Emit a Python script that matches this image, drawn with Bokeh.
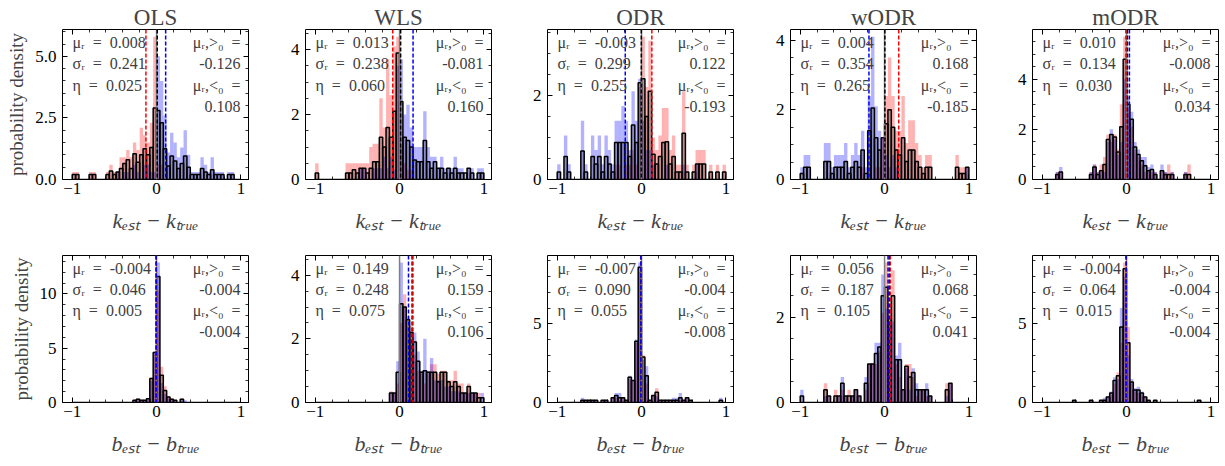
from bokeh.plotting import figure
from bokeh.layouts import row as brow, column as bcol
from bokeh.models import (Range1d, Label, Span, LinearAxis, SingleIntervalTicker,
                          PrintfTickFormatter, CustomJSTickFormatter)
from bokeh.embed import file_html
from bokeh.resources import INLINE

SERIF = "Liberation Serif"

methods = ["OLS", "WLS", "ODR", "wODR", "mODR"]
bin_edges = [round(-1.0 + 0.04 * i, 2) for i in range(51)]

# ---------------- k_est - k_true : total (black), subset >0 (red), subset <0 (blue)
k_ols_all = [0.2, 0.2, 0, 0, 0, 0.2, 0.2, 0, 0, 0,
             0.2, 0.35, 0.2, 0.3, 0.45, 0.65, 0.8, 0.45, 1.05, 0.7,
             1.0, 1.25, 1.0, 1.3, 2.9, 2.8, 2.3, 1.25, 0.55, 0.95,
             0.75, 0.45, 0.65, 0.95, 0.5, 0.2, 0.2, 0.2, 0.45, 0.3,
             0.2, 0.4, 0.2, 0.2, 0.2, 0, 0.2, 0.2, 0, 0]
k_ols_pos = [0.3, 0.3, 0, 0, 0, 0.3, 0.3, 0, 0, 0,
             0.3, 0.6, 0.3, 0.3, 0.9, 0.9, 1.2, 0.9, 1.5, 1.2,
             2.1, 1.8, 1.5, 2.3, 5.8, 0.6, 0.6, 0, 0, 0,
             0, 0, 0, 0, 0, 0, 0, 0, 0, 0,
             0, 0, 0, 0, 0, 0, 0, 0, 0, 0]
k_ols_neg = [0, 0, 0, 0, 0, 0, 0, 0, 0, 0,
             0, 0, 0, 0.3, 0, 0.3, 0.3, 0, 0.6, 0.3,
             0, 0.6, 0.6, 0.3, 0.3, 5.0, 4.0, 2.6, 1.1, 1.9,
             1.5, 0.9, 1.3, 2.0, 1.0, 0.3, 0.3, 0.3, 0.9, 0.6,
             0.3, 0.9, 0.3, 0.3, 0.3, 0, 0.3, 0.3, 0, 0]

k_wls_all = [0.2, 0, 0, 0, 0, 0, 0, 0, 0, 0.2,
             0.2, 0.3, 0.2, 0.35, 0.35, 0.2, 0.35, 0.55, 0.55, 1.3,
             1.0, 1.6, 1.3, 2.1, 3.9, 2.4, 1.3, 1.2, 1.0, 0.6,
             0.55, 0.55, 1.2, 0.55, 0.35, 0.55, 0.35, 0.35, 0.2, 0.35,
             0.2, 0.35, 0.2, 0.2, 0.2, 0.35, 0.2, 0, 0.2, 0.2]
k_wls_pos = [0.5, 0, 0, 0, 0, 0, 0, 0, 0, 0.5,
             0.5, 0.5, 0.5, 0.5, 0.5, 0.5, 1.0, 1.1, 1.1, 2.5,
             1.6, 3.7, 2.6, 4.1, 4.4, 1.0, 0.5, 0.3, 0.3, 0,
             0, 0, 0, 0, 0, 0, 0, 0, 0, 0,
             0, 0, 0, 0, 0, 0, 0, 0, 0, 0]
k_wls_neg = [0, 0, 0, 0, 0, 0, 0, 0, 0, 0,
             0, 0, 0, 0.35, 0.35, 0, 0, 0.35, 0.35, 0.35,
             0.7, 0.35, 0.7, 0.3, 3.5, 3.7, 2.0, 2.3, 1.6, 1.0,
             1.0, 1.0, 2.1, 1.0, 0.7, 0.7, 0.35, 0.7, 0.35, 0.35,
             0.35, 0.7, 0.35, 0.35, 0, 0.35, 0.35, 0, 0.35, 0.35]

k_odr_all = [0.18, 0, 0.55, 0.18, 0, 0, 0, 0.68, 0.18, 0,
             0.55, 0.37, 0.55, 0.18, 0.55, 0.37, 0.18, 0.88, 0.88, 0.88,
             0.88, 0.55, 1.3, 0.88, 2.3, 2.4, 1.5, 2.1, 0.6, 0.37,
             0.55, 0.88, 0.9, 0.37, 0.55, 0.18, 0.18, 1.1, 0.18, 0,
             0.18, 0.37, 0.37, 0.37, 0, 0.18, 0, 0.18, 0, 0.18]
k_odr_pos = [0, 0, 0, 0, 0, 0, 0, 0, 0, 0,
             0, 0, 0, 0, 0, 0, 0, 0.35, 0.35, 0,
             0.35, 0.35, 0.7, 0.35, 2.2, 3.4, 2.2, 3.3, 1.0, 0.7,
             1.05, 1.7, 1.7, 0.7, 1.05, 0.35, 0.35, 2.1, 0.35, 0,
             0.35, 0.7, 0.7, 0.7, 0, 0.35, 0, 0.35, 0, 0.35]
k_odr_neg = [0.36, 0, 1.05, 0.36, 0, 0, 0, 1.4, 0.36, 0,
             1.05, 0.7, 1.05, 0.36, 1.05, 0.7, 0.36, 1.4, 1.4, 1.75,
             1.4, 0.7, 2.1, 1.4, 2.4, 1.4, 0.7, 0.7, 0.35, 0,
             0, 0, 0.35, 0, 0, 0, 0, 0.35, 0, 0,
             0, 0.35, 0, 0, 0, 0, 0, 0, 0, 0]

k_wodr_all = [0.17, 0.35, 0.35, 0, 0, 0, 0, 0.52, 0.52, 0.17,
              0.35, 0.35, 0.35, 0.52, 0.17, 0.35, 0.52, 0.35, 0.85, 0.17,
              1.4, 2.05, 1.2, 0.85, 1.2, 1.6, 2.0, 1.5, 0.85, 0.7,
              1.2, 0.52, 0.85, 0.85, 0.52, 0.35, 0.17, 0.35, 0.35, 0,
              0, 0, 0, 0, 0, 0, 0.35, 0.17, 0.17, 0.35]
k_wodr_pos = [0, 0, 0, 0, 0, 0, 0, 0, 0, 0,
              0, 0, 0, 0, 0, 0, 0, 0, 0.35, 0,
              0.35, 0, 0.35, 0.35, 1.2, 2.4, 3.5, 2.4, 1.4, 1.4,
              2.4, 1.05, 1.7, 1.7, 1.05, 0.7, 0.35, 0.7, 0.7, 0,
              0, 0, 0, 0, 0, 0, 0.7, 0.35, 0.35, 0.35]
k_wodr_neg = [0.35, 0.7, 0.7, 0, 0, 0, 0, 1.05, 1.05, 0.35,
              0.7, 0.7, 0.7, 1.05, 0.35, 0.7, 1.05, 0.7, 1.4, 0.35,
              2.4, 4.1, 2.1, 1.4, 1.2, 0.7, 0.35, 0.7, 0.35, 0,
              0, 0, 0, 0, 0, 0, 0, 0, 0, 0,
              0, 0, 0, 0, 0, 0, 0, 0, 0, 0.35]

k_modr_all = [0, 0, 0, 0, 0.2, 0.3, 0, 0, 0, 0,
              0, 0, 0, 0, 0.2, 0.5, 0.2, 0.35, 0.6, 1.6,
              1.8, 1.7, 1.1, 2.1, 4.8, 3.0, 2.4, 1.3, 1.0, 0.75,
              0.55, 0.35, 0.4, 0.2, 0, 0.35, 0.2, 0.2, 0.2, 0,
              0, 0, 0.2, 0.2, 0, 0, 0, 0, 0, 0]
k_modr_pos = [0, 0, 0, 0, 0.3, 0.3, 0, 0, 0, 0,
              0, 0, 0, 0, 0.3, 0.6, 0.3, 0.6, 0.9, 1.8,
              1.5, 1.8, 1.2, 3.0, 5.7, 2.7, 2.1, 1.2, 0.9, 0.6,
              0.3, 0.3, 0.3, 0.3, 0, 0.3, 0.3, 0.6, 0.3, 0,
              0, 0, 0.3, 0.6, 0, 0, 0, 0, 0, 0]
k_modr_neg = [0, 0, 0, 0, 0.3, 0.5, 0, 0, 0, 0,
              0, 0, 0, 0, 0.3, 0.6, 0.3, 0.3, 0.3, 1.5,
              2.0, 1.6, 1.0, 1.5, 4.0, 3.3, 2.7, 1.5, 1.2, 0.9,
              0.9, 0.5, 0.6, 0.3, 0, 0.6, 0.3, 0, 0.3, 0,
              0, 0, 0.3, 0, 0, 0, 0, 0, 0, 0]

# ---------------- b_est - b_true
b_ols_all = [0, 0, 0, 0, 0, 0, 0, 0, 0, 0,
             0, 0, 0, 0, 0, 0, 0, 0, 0.2, 0.3,
             0.2, 0.2, 0.35, 2.2, 4.6, 11.6, 2.5, 1.1, 0.5, 0.3,
             0.2, 0, 0.3, 0, 0, 0, 0, 0, 0, 0,
             0, 0, 0, 0, 0, 0, 0, 0, 0, 0]
b_ols_pos = [0, 0, 0, 0, 0, 0, 0, 0, 0, 0,
             0, 0, 0, 0, 0, 0, 0, 0, 0.2, 0.4,
             0.2, 0.2, 0.4, 2.3, 4.5, 10.3, 3.3, 1.5, 0.6, 0.4,
             0.2, 0, 0.4, 0, 0, 0, 0, 0, 0, 0,
             0, 0, 0, 0, 0, 0, 0, 0, 0, 0]
b_ols_neg = [0, 0, 0, 0, 0, 0, 0, 0, 0, 0,
             0, 0, 0, 0, 0, 0, 0, 0, 0.2, 0.2,
             0.2, 0.2, 0.3, 2.0, 4.7, 12.9, 1.8, 0.8, 0.4, 0.2,
             0.2, 0, 0.2, 0.2, 0, 0, 0, 0, 0, 0,
             0, 0, 0, 0, 0, 0, 0, 0, 0, 0]

b_wls_all = [0, 0, 0, 0, 0, 0, 0, 0, 0, 0,
             0, 0, 0, 0, 0, 0, 0, 0, 0, 0,
             0, 0, 0.3, 0.3, 0.95, 3.1, 3.0, 2.6, 2.2, 1.9,
             1.3, 0.95, 1.0, 0.95, 0.95, 0.95, 0.65, 0.95, 0.95, 0.65,
             0.5, 0.65, 0.5, 0.3, 0.3, 0.5, 0.3, 0.3, 0.15, 0.15]
b_wls_pos = [0, 0, 0, 0, 0, 0, 0, 0, 0, 0,
             0, 0, 0, 0, 0, 0, 0, 0, 0, 0,
             0, 0, 0.35, 0.3, 0.6, 2.5, 3.4, 2.7, 2.4, 1.5,
             1.0, 0.9, 0.6, 0.9, 1.2, 1.2, 0.9, 1.0, 1.0, 0.7,
             0.7, 1.0, 0.6, 0.6, 0.3, 0.6, 0.3, 0.3, 0.3, 0]
b_wls_neg = [0, 0, 0, 0, 0, 0, 0, 0, 0, 0,
             0, 0, 0, 0, 0, 0, 0, 0, 0, 0,
             0, 0, 0.3, 0.3, 1.3, 4.4, 3.0, 2.4, 2.0, 2.2,
             1.6, 1.0, 2.0, 1.0, 1.4, 0.7, 0.7, 0.7, 0.5, 0.5,
             0.35, 0.35, 0.35, 0.3, 0.3, 0.3, 0.3, 0.3, 0, 0.3]

b_odr_all = [0, 0, 0, 0, 0, 0, 0, 0.15, 0.15, 0.15,
             0.15, 0.15, 0, 0.15, 0.15, 0, 0.3, 0.45, 0.3, 0.3,
             0.15, 1.6, 1.4, 3.9, 8.6, 2.9, 1.7, 0.15, 0.45, 0.65,
             0.15, 0.15, 0.15, 0.15, 0.15, 0.15, 0.3, 0.15, 0.3, 0.15,
             0, 0, 0, 0, 0, 0, 0, 0, 0.15, 0]
b_odr_pos = [0, 0, 0, 0, 0, 0, 0, 0.15, 0.15, 0.15,
             0.15, 0.15, 0, 0.15, 0.15, 0, 0.3, 0.3, 0.15, 0.3,
             0.15, 1.5, 1.4, 3.8, 8.3, 3.0, 1.2, 0.15, 0.5, 0.9,
             0.15, 0.15, 0.15, 0.15, 0.15, 0.15, 0.15, 0.15, 0.3, 0.15,
             0, 0, 0, 0, 0, 0, 0, 0, 0, 0]
b_odr_neg = [0, 0, 0, 0, 0, 0, 0, 0.3, 0.15, 0.15,
             0.15, 0.15, 0, 0.15, 0.15, 0, 0.3, 0.6, 0.6, 0.3,
             0.15, 1.7, 1.4, 4.0, 8.9, 2.7, 2.3, 0.15, 0.4, 0.4,
             0.15, 0.15, 0.15, 0.15, 0.3, 0.3, 0.6, 0.15, 0.3, 0.15,
             0, 0, 0, 0, 0, 0, 0, 0, 0.3, 0]

b_wodr_all = [0.15, 0, 0, 0, 0, 0, 0, 0.3, 0.15, 0,
              0.15, 0.15, 0.45, 0.15, 0.15, 0.15, 0.3, 0.15, 0, 0.45,
              0.9, 0.9, 1.15, 1.3, 2.5, 2.7, 2.0, 2.5, 1.0, 1.0,
              0.3, 0.85, 0.6, 0.7, 0.3, 0.3, 0.3, 0.3, 0.15, 0,
              0, 0, 0, 0.3, 0.45, 0, 0, 0, 0, 0]
b_wodr_pos = [0, 0, 0, 0, 0, 0, 0, 0.45, 0.15, 0,
              0.3, 0.15, 0.3, 0.15, 0.3, 0.15, 0.3, 0.15, 0, 0.3,
              0.9, 0.9, 0.9, 1.2, 2.1, 3.28, 2.2, 3.1, 0.9, 0.6,
              0.3, 0.9, 0.9, 0.6, 0.15, 0.3, 0.3, 0.15, 0.15, 0,
              0, 0, 0, 0.45, 0.45, 0, 0, 0, 0, 0]
b_wodr_neg = [0.3, 0, 0, 0, 0, 0, 0, 0.15, 0.15, 0,
              0, 0.15, 0.6, 0.15, 0, 0.15, 0.3, 0.15, 0, 0.6,
              0.9, 0.9, 1.4, 1.4, 3.0, 2.2, 1.8, 1.9, 1.1, 1.4,
              0.3, 0.8, 0.3, 0.8, 0.45, 0.3, 0.3, 0.45, 0.15, 0,
              0, 0, 0, 0.15, 0.45, 0, 0, 0, 0, 0]

b_modr_all = [0, 0, 0, 0, 0, 0, 0, 0, 0, 0.15,
              0, 0, 0, 0, 0.15, 0, 0, 0.15, 0.15, 0.35,
              0.6, 1.4, 1.7, 4.8, 8.5, 3.8, 1.3, 0.8, 0.8, 0.6,
              0.35, 0.15, 0, 0.15, 0, 0, 0, 0, 0, 0,
              0, 0, 0, 0, 0, 0, 0.15, 0, 0, 0]
b_modr_pos = [0, 0, 0, 0, 0, 0, 0, 0, 0, 0.15,
              0, 0, 0, 0, 0.15, 0, 0, 0.15, 0.15, 0.3,
              0.5, 1.2, 1.9, 3.8, 8.9, 4.8, 1.2, 0.7, 0.6, 0.5,
              0.3, 0.15, 0, 0.15, 0, 0, 0, 0, 0, 0,
              0, 0, 0, 0, 0, 0, 0.15, 0, 0, 0]
b_modr_neg = [0, 0, 0, 0, 0, 0, 0, 0, 0, 0.15,
              0, 0, 0, 0, 0.15, 0, 0, 0.15, 0.3, 0.4,
              0.7, 1.6, 1.5, 6.0, 8.0, 3.0, 1.5, 0.9, 1.0, 0.7,
              0.4, 0.15, 0, 0.15, 0, 0, 0, 0, 0, 0,
              0, 0, 0, 0, 0, 0, 0.15, 0, 0, 0]

# ---------------- statistics
k_mu = [0.008, 0.013, -0.003, 0.004, 0.010]
k_sigma = [0.241, 0.238, 0.299, 0.354, 0.134]
k_eta = [0.025, 0.060, 0.255, 0.265, 0.030]
k_mu_pos = [-0.126, -0.081, 0.122, 0.168, -0.008]
k_mu_neg = [0.108, 0.160, -0.193, -0.185, 0.034]

b_mu = [-0.004, 0.149, -0.007, 0.056, -0.004]
b_sigma = [0.046, 0.248, 0.090, 0.187, 0.064]
b_eta = [0.005, 0.075, 0.055, 0.105, 0.015]
b_mu_pos = [-0.004, 0.159, -0.004, 0.068, -0.004]
b_mu_neg = [-0.004, 0.106, -0.008, 0.041, -0.004]

k_tick_step = [2.5, 2, 2, 2, 2]
b_tick_step = [5, 2, 5, 2, 5]

k_data = [(k_ols_all, k_ols_pos, k_ols_neg), (k_wls_all, k_wls_pos, k_wls_neg),
          (k_odr_all, k_odr_pos, k_odr_neg), (k_wodr_all, k_wodr_pos, k_wodr_neg),
          (k_modr_all, k_modr_pos, k_modr_neg)]
b_data = [(b_ols_all, b_ols_pos, b_ols_neg), (b_wls_all, b_wls_pos, b_wls_neg),
          (b_odr_all, b_odr_pos, b_odr_neg), (b_wodr_all, b_wodr_pos, b_wodr_neg),
          (b_modr_all, b_modr_pos, b_modr_neg)]

X0, X1 = -1.115, 1.09
FRAME_W = 186
BORDER_L = [62, 49, 48, 49, 48]
BORDER_R = [8, 8, 8, 8, 4]
BORDER_T = [29, 12]
BORDER_B = [64, 54]
FRAME_H = [150, 149]
EN = "\u2002"


def style_axis(ax, show_labels):
    ax.axis_line_color = None
    ax.major_tick_in = 5
    ax.major_tick_out = 0
    ax.minor_tick_in = 3
    ax.minor_tick_out = 0
    ax.major_tick_line_color = "black"
    ax.minor_tick_line_color = "black"
    ax.major_tick_line_width = 1
    ax.minor_tick_line_width = 0.8
    if show_labels:
        ax.major_label_text_font = SERIF
        ax.major_label_text_font_size = "17px"
        ax.major_label_text_color = "black"
    else:
        ax.formatter = CustomJSTickFormatter(code="return ''")
        ax.major_label_text_font_size = "1px"
        ax.major_label_standoff = 0


def minor_count(step):
    return 4 if step == 2 else 5


def panel(r, col, series, mu, sig, eta, mpos, mneg, step, xlabel):
    black, red, blue = series
    top = 1.05 * max(black + red + blue)
    fh = FRAME_H[r]
    p = figure(width=BORDER_L[col] + FRAME_W + BORDER_R[col],
               height=BORDER_T[r] + fh + BORDER_B[r],
               x_range=Range1d(X0, X1), y_range=Range1d(0, top),
               output_backend="svg", toolbar_location=None,
               x_axis_type=None, y_axis_type=None,
               min_border_left=BORDER_L[col], min_border_right=BORDER_R[col],
               min_border_top=BORDER_T[r], min_border_bottom=BORDER_B[r])
    p.outline_line_color = "black"
    p.outline_line_width = 1
    p.outline_line_alpha = 1
    p.background_fill_color = "white"
    p.border_fill_color = "white"

    if r == 0:
        p.title.text = methods[col]
        p.title.align = "center"
        p.title.text_font = SERIF
        p.title.text_font_size = "23px"
        p.title.text_font_style = "normal"
        p.title.standoff = 0

    lefts = bin_edges[:-1]
    rights = bin_edges[1:]
    p.quad(left=lefts, right=rights, bottom=0, top=red,
           fill_color="red", fill_alpha=0.3, line_color=None)
    p.quad(left=lefts, right=rights, bottom=0, top=blue,
           fill_color="blue", fill_alpha=0.3, line_color=None)
    p.quad(left=lefts, right=rights, bottom=0, top=black,
           fill_color="black", fill_alpha=0.22, line_color="black", line_width=1.5)

    p.add_layout(Span(location=0, dimension="height", line_color="gray", line_width=1.5))
    p.add_layout(Span(location=mu, dimension="height", line_color="black",
                      line_width=1.5, line_dash="4 2"))
    p.add_layout(Span(location=mpos, dimension="height", line_color="red",
                      line_width=1.5, line_dash="4 2"))
    p.add_layout(Span(location=mneg, dimension="height", line_color="blue",
                      line_width=1.5, line_dash="4 2"))

    # axes
    xb = LinearAxis(ticker=SingleIntervalTicker(interval=1, num_minor_ticks=5))
    style_axis(xb, True)
    xb.major_label_overrides = {-1: "\u22121", 0: "0", 1: "1"}
    xb.major_label_standoff = 3
    xb.axis_label = xlabel
    xb.axis_label_text_font = SERIF
    xb.axis_label_text_font_size = "22px"
    xb.axis_label_text_font_style = "italic"
    xb.axis_label_standoff = 11
    p.add_layout(xb, "below")

    xt = LinearAxis(ticker=SingleIntervalTicker(interval=1, num_minor_ticks=5))
    style_axis(xt, False)
    p.add_layout(xt, "above")

    yl = LinearAxis(ticker=SingleIntervalTicker(interval=step, num_minor_ticks=minor_count(step)))
    style_axis(yl, True)
    yl.major_label_standoff = 6
    if step == 2.5:
        yl.formatter = PrintfTickFormatter(format="%.1f")
    if col == 0:
        yl.axis_label = "probability density"
        yl.axis_label_text_font = SERIF
        yl.axis_label_text_font_size = "19px"
        yl.axis_label_text_font_style = "normal"
        yl.axis_label_standoff = 5
    p.add_layout(yl, "left")

    yr = LinearAxis(ticker=SingleIntervalTicker(interval=step, num_minor_ticks=minor_count(step)))
    style_axis(yr, False)
    p.add_layout(yr, "right")

    # statistics text
    upx = (X1 - X0) / FRAME_W
    xl = X0 + 10 * upx
    xr = X1 - 8 * upx
    upy = top / fh
    eq = EN + "=" + EN
    left_txt = ["\u03bc\u1d63" + eq + "%.3f" % mu,
                "\u03c3\u1d63" + eq + "%.3f" % sig,
                "\u03b7" + eq + "%.3f" % eta]
    right_txt = ["\u03bc\u1d63,>\u2080" + EN + "=", "%.3f" % mpos,
                 "\u03bc\u1d63,<\u2080" + EN + "=", "%.3f" % mneg]
    offs = [13, 34, 56, 77]
    for t, o in zip(left_txt, offs):
        p.add_layout(Label(x=xl, y=top - o * upy, text=t, text_align="left",
                           text_baseline="middle", text_font=SERIF,
                           text_font_size="16px", text_color="#404040"))
    for t, o in zip(right_txt, offs):
        p.add_layout(Label(x=xr, y=top - o * upy, text=t, text_align="right",
                           text_baseline="middle", text_font=SERIF,
                           text_font_size="16px", text_color="#404040"))
    return p


row_k = []
row_b = []
for c in range(5):
    row_k.append(panel(0, c, k_data[c], k_mu[c], k_sigma[c], k_eta[c],
                       k_mu_pos[c], k_mu_neg[c], k_tick_step[c],
                       "k\u2091\u209b\u209c \u2212 k\u209c\u1d63\u1d64\u2091"))
    row_b.append(panel(1, c, b_data[c], b_mu[c], b_sigma[c], b_eta[c],
                       b_mu_pos[c], b_mu_neg[c], b_tick_step[c],
                       "b\u2091\u209b\u209c \u2212 b\u209c\u1d63\u1d64\u2091"))

layout = bcol(brow(*row_k), brow(*row_b))

open("out.html", "w").write(file_html(layout, INLINE))
